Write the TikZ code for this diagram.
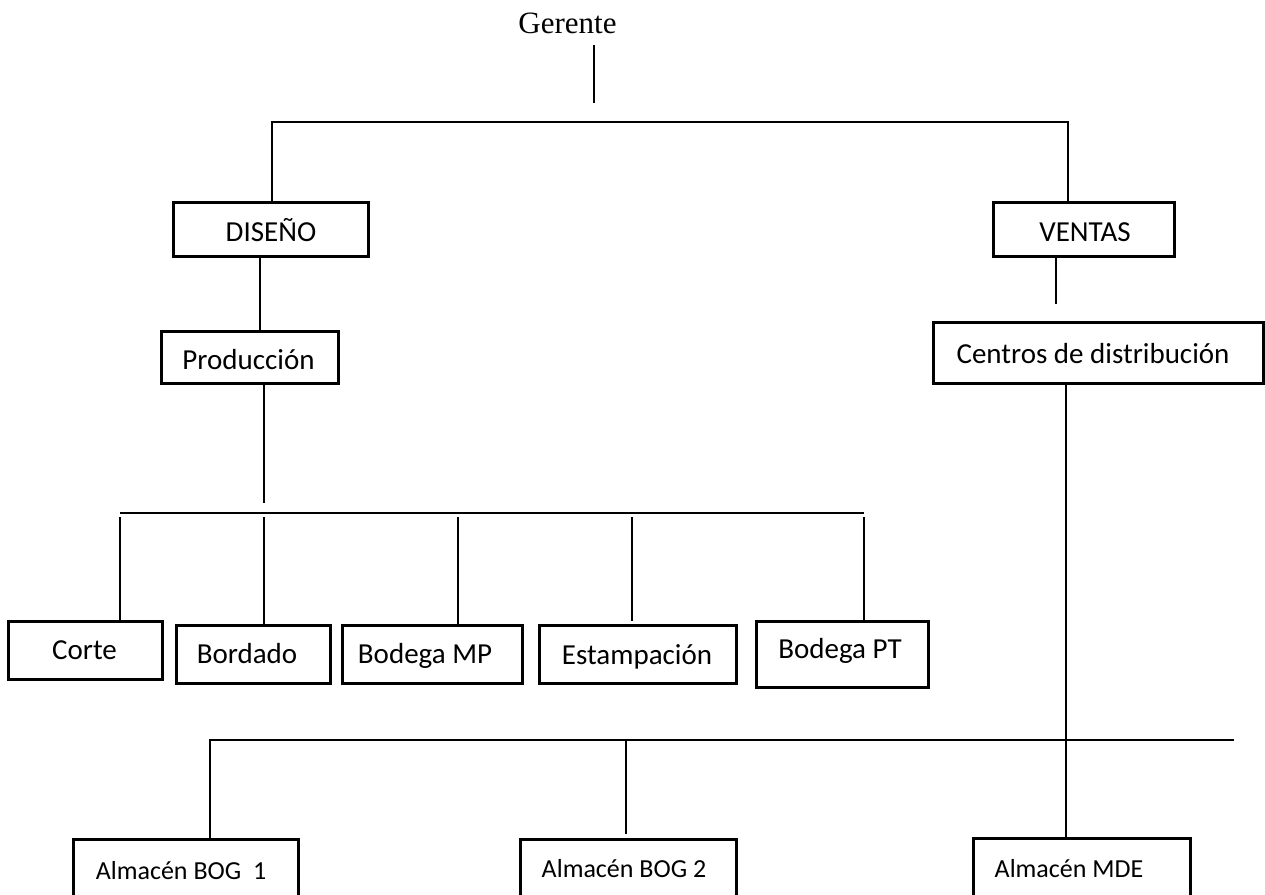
\documentclass[tikz,border=0pt]{standalone}
\usepackage{fontspec}
\setmainfont{Carlito}
\newfontfamily\titlefont{Liberation Serif}

% box with corners (x1,y1)-(x2,y2), drawn empty; labels are set separately
\newcommand\orgbox[5]{%
  \node[unitbox, minimum width={#4-#2}, minimum height={#5-#3}]
    (#1) at ({(#2+#4)/2},{(#3+#5)/2}) {};}

\begin{document}
\begin{tikzpicture}[x=1pt,y=-1pt,
  unitbox/.style={draw, line width=3pt, inner sep=0pt},
  link/.style={line width=2.8pt},
  lbl/.style={font=\fontsize{29}{34}\selectfont, anchor=base, inner sep=0pt},
  smalllbl/.style={font=\fontsize{26}{31}\selectfont, anchor=base, inner sep=0pt}]
\useasboundingbox (0,0) rectangle (1265,894);
\clip (0,0) rectangle (1265,894);
\fill[white] (0,0) rectangle (1265,894);

% --- top of the chart
\node[font=\titlefont\fontsize{31}{36}\selectfont, anchor=base, inner sep=0pt]
  (gerente) at (567.5,33) {Gerente};

% --- boxes
\orgbox{diseno}{173}{202}{368}{256}
\orgbox{ventas}{993}{202}{1174}{256}
\orgbox{prod}{161}{331}{338}{383}
\orgbox{centros}{933}{322}{1263}{383}
\orgbox{corte}{8}{621}{162}{679}
\orgbox{bordado}{176}{625}{330}{683}
\orgbox{bodmp}{342}{625}{522}{683}
\orgbox{estamp}{539}{625}{736}{683}
\orgbox{bodpt}{756}{621}{928}{687}
\orgbox{bogone}{73}{839}{298}{930}
\orgbox{bogtwo}{520}{839}{736}{930}
\orgbox{mde}{973}{838}{1190}{930}

% --- labels
\node[lbl] (diseno-t)  at (271,241)   {DISEÑO};
\node[lbl] (ventas-t)  at (1085,241)  {VENTAS};
\node[lbl] (prod-t)    at (248.5,369) {Producción};
\node[lbl] (centros-t) at (1093,363)  {Centros de distribución};
\node[lbl] (corte-t)   at (84.5,659)  {Corte};
\node[lbl] (bordado-t) at (247,663)   {Bordado};
\node[lbl] (bodmp-t)   at (425,663)   {Bodega MP};
\node[lbl] (estamp-t)  at (637,664)   {Estampación};
\node[lbl] (bodpt-t)   at (840,658)   {Bodega PT};
\node[smalllbl] (bogone-t) at (181,879)  {Almacén BOG\ \ 1};
\node[smalllbl] (bogtwo-t) at (624,877)  {Almacén BOG 2};
\node[smalllbl] (mde-t)    at (1069,877) {Almacén MDE};

% --- connector points
\coordinate (g-top) at (594,45);
\coordinate (g-bot) at (594,103);
\coordinate (busa-l) at (272,122);
\coordinate (busa-r) at (1068,122);
\coordinate (dp) at (260,0);
\coordinate (vc) at (1056,0);
\coordinate (vc-end) at (1056,304);
\coordinate (pd-end) at (264,503);
\coordinate (busb-l) at (120,513);
\coordinate (busb-r) at (864,513);
\coordinate (busb-drop) at (0,517);
\coordinate (cd) at (1066,0);
\coordinate (busc-l) at (210,740);
\coordinate (busc-r) at (1234,740);
\coordinate (bogtwo-x) at (626,740);

% --- connectors
\draw[link] (g-top) -- (g-bot);
\draw[link] (diseno.north -| busa-l) -- (busa-l) -- (busa-r) -- (ventas.north -| busa-r);
\draw[link] (diseno.south -| dp) -- (prod.north -| dp);
\draw[link] (ventas.south -| vc) -- (vc-end);
\draw[link] (prod.south -| pd-end) -- (pd-end);
\draw[link] (busb-l) -- (busb-r);
\draw[link] (busb-drop -| busb-l) -- (corte.north -| busb-l);
\draw[link] (busb-drop -| pd-end) -- (bordado.north -| pd-end);
\draw[link] (458,517) -- (bodmp.north -| 458,0);
\draw[link] (632,517) -- ([yshift=3pt]estamp.north -| 632,0);
\draw[link] (busb-drop -| busb-r) -- (bodpt.north -| busb-r);
\draw[link] (centros.south -| cd) -- (mde.north -| cd);
\draw[link] (busc-r) -- (busc-l) -- (bogone.north -| busc-l);
\draw[link] (bogtwo-x) -- ([yshift=4pt]bogtwo.north -| bogtwo-x);
\end{tikzpicture}
\end{document}
